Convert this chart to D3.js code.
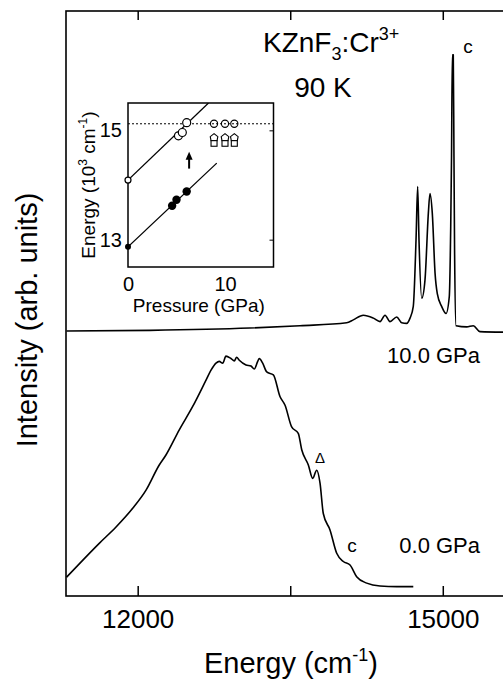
<!DOCTYPE html>
<html>
<head>
<meta charset="utf-8">
<script src="https://cdn.jsdelivr.net/npm/d3@7"></script>
<style>
  body { margin: 0; background: #fff; }
  svg { font-family: "Liberation Sans", Arial, Helvetica, sans-serif; }
</style>
</head>
<body>
<div id="chart"></div>
<script>
// main spectra: energy in cm^-1, intensity in arb. units
const energy0 = [11300, 11622, 11787, 11951, 12082, 12212, 12278, 12409, 12541, 12672, 12721, 12770, 12802, 12836, 12868, 12917, 12950, 12973, 12999, 13065, 13114, 13147, 13180, 13196, 13229, 13269, 13334, 13399, 13449, 13514, 13579, 13613, 13678, 13721, 13760, 13793, 13825, 13891, 13957, 14022, 14088, 14153, 14252, 14383, 14547, 14710];
const int0 = [3.2, 9.0, 11.8, 15.0, 18.1, 22.4, 24.1, 28.4, 32.4, 36.9, 38.6, 39.8, 40.1, 39.8, 41.0, 40.6, 40.2, 40.8, 40.3, 39.5, 39.3, 38.8, 40.1, 40.6, 39.8, 38.3, 37.8, 34.1, 32.6, 28.9, 27.8, 25.0, 22.4, 20.1, 21.5, 19.3, 14.1, 11.3, 7.3, 5.9, 5.3, 3.3, 2.2, 1.7, 1.6, 1.6];

const energy10 = [11300, 12121, 13104, 13596, 14055, 14120, 14218, 14317, 14383, 14432, 14481, 14547, 14596, 14645, 14678, 14710, 14737, 14753, 14766, 14793, 14825, 14858, 14874, 14897, 14924, 14946, 14989, 15032, 15064, 15078, 15086, 15094, 15103, 15110, 15116, 15130, 15235, 15300, 15366, 15592];
const int10 = [45.3, 45.4, 45.8, 46.2, 46.7, 47.2, 48.0, 47.5, 46.9, 48.0, 46.9, 47.7, 46.7, 46.6, 47.5, 49.5, 60.9, 70.0, 60.9, 50.9, 54.0, 65.4, 68.8, 65.4, 55.2, 51.7, 49.5, 48.3, 51.2, 63.1, 75.1, 92.5, 92.5, 75.1, 59.1, 46.2, 46.0, 46.2, 45.2, 45.1];

const xTicks = [12000, 13500, 15000];

// inset: pressure (GPa) vs energy (10^3 cm^-1)
const pOpen = [0, 5.2, 5.6, 6.05];
const eOpen = [14.09, 14.90, 14.96, 15.14];
const pFilled = [0, 4.55, 5.0, 6.05];
const eFilled = [12.87, 13.62, 13.73, 13.88];
const upperFit = [[0, 14.09], [8.3, 15.5]];
const lowerFit = [[0, 12.87], [9.15, 14.40]];
const dottedLevel = 15.12;
const pHigh = [8.87, 10.0, 10.96];
const eHighCircle = [15.12, 15.12, 15.12];
const eHighPent = [14.87, 14.87, 14.87];
const eHighSquare = [14.76, 14.76, 14.76];
const arrowP = 6.3, arrowFrom = 14.30, arrowTo = 14.61;

const width = 503, height = 679;

const svg = d3.select("#chart").append("svg")
    .attr("width", width)
    .attr("height", height);

const x = d3.scaleLinear().domain([11300, 15600]).range([66.5, 503.8]);
const y = d3.scaleLinear().domain([0, 100]).range([596, 11]);

// frame
svg.append("rect")
    .attr("x", 66).attr("y", 11)
    .attr("width", 460).attr("height", 585)
    .attr("fill", "none").attr("stroke", "#000").attr("stroke-width", 1.6);

const bottomAxis = svg.append("g")
    .attr("transform", "translate(0,596)")
    .call(d3.axisBottom(x).tickValues(xTicks).tickSize(-10).tickPadding(14)
        .tickFormat(d => d % 3000 === 0 ? d : ""));
bottomAxis.select(".domain").remove();
bottomAxis.selectAll("line").attr("stroke-width", 1.5);
bottomAxis.selectAll("text").attr("font-size", 26).attr("fill", "#000")
    .attr("font-family", "Liberation Sans, Arial, sans-serif");

const topAxis = svg.append("g")
    .attr("transform", "translate(0,11)")
    .call(d3.axisTop(x).tickValues(xTicks).tickSize(-9).tickFormat(""));
topAxis.select(".domain").remove();
topAxis.selectAll("line").attr("stroke-width", 1.5);

const line = d3.line()
    .x(d => x(d[0]))
    .y(d => y(d[1]))
    .curve(d3.curveMonotoneX);

svg.append("path")
    .datum(energy0.map((e, i) => [e, int0[i]]))
    .attr("d", line)
    .attr("fill", "none").attr("stroke", "#000").attr("stroke-width", 1.6);

svg.append("path")
    .datum(energy10.map((e, i) => [e, int10[i]]))
    .attr("d", line)
    .attr("fill", "none").attr("stroke", "#000").attr("stroke-width", 1.6)
    .attr("stroke-linejoin", "round");

// axis titles
svg.append("text")
    .attr("transform", "translate(37,320) rotate(-90)")
    .attr("text-anchor", "middle")
    .attr("font-size", 29)
    .text("Intensity (arb. units)");

const xt = svg.append("text")
    .attr("x", 291).attr("y", 673)
    .attr("text-anchor", "middle")
    .attr("font-size", 29);
xt.append("tspan").text("Energy (cm");
xt.append("tspan").attr("font-size", 18).attr("dy", -12).text("-1");
xt.append("tspan").attr("dy", 12).text(")");

// annotations
const title = svg.append("text")
    .attr("x", 263).attr("y", 52)
    .attr("font-size", 28);
title.append("tspan").text("KZnF");
title.append("tspan").attr("font-size", 18).attr("dy", 8).text("3");
title.append("tspan").attr("dy", -8).text(":Cr");
title.append("tspan").attr("font-size", 18).attr("dy", -12).text("3+");

svg.append("text").attr("x", 323).attr("y", 97)
    .attr("text-anchor", "middle").attr("font-size", 28).text("90 K");

svg.append("text").attr("x", 468).attr("y", 53)
    .attr("text-anchor", "middle").attr("font-size", 19).text("c");
svg.append("text").attr("x", 480).attr("y", 363)
    .attr("text-anchor", "end").attr("font-size", 22).text("10.0 GPa");
svg.append("text").attr("x", 480).attr("y", 553)
    .attr("text-anchor", "end").attr("font-size", 22).text("0.0 GPa");
svg.append("text").attr("x", 320).attr("y", 463)
    .attr("text-anchor", "middle").attr("font-size", 15).text("Δ");
svg.append("text").attr("x", 352).attr("y", 552)
    .attr("text-anchor", "middle").attr("font-size", 19).text("c");

// ---- inset ----
const ix = d3.scaleLinear().domain([0, 15]).range([128, 273.5]);
const iy = d3.scaleLinear().domain([12.5, 15.5]).range([267, 103]);
const inset = svg.append("g");

inset.append("rect")
    .attr("x", 128).attr("y", 103)
    .attr("width", 145.5).attr("height", 164)
    .attr("fill", "#fff").attr("stroke", "#000").attr("stroke-width", 1.5);

const iLeft = inset.append("g").attr("transform", "translate(128,0)")
    .call(d3.axisLeft(iy).tickValues([13, 15]).tickSize(0).tickPadding(6).tickFormat(d3.format("d")));
const iBottom = inset.append("g").attr("transform", "translate(0,267)")
    .call(d3.axisBottom(ix).tickValues([0, 10]).tickSize(0).tickPadding(6).tickFormat(d3.format("d")));
const iRight = inset.append("g").attr("transform", "translate(273.5,0)")
    .call(d3.axisRight(iy).tickValues([13, 15]).tickSize(-4).tickFormat(""));
[iLeft, iBottom, iRight].forEach(g => {
    g.select(".domain").remove();
    g.selectAll("text").attr("font-size", 20).attr("fill", "#000")
        .attr("font-family", "Liberation Sans, Arial, sans-serif");
});
iBottom.selectAll("text").attr("dy", "0.9em");

inset.append("text")
    .attr("transform", "translate(95,185) rotate(-90)")
    .attr("text-anchor", "middle")
    .attr("font-size", 19)
    .call(t => {
        t.append("tspan").text("Energy (10");
        t.append("tspan").attr("font-size", 12).attr("dy", -8).text("3");
        t.append("tspan").attr("dy", 8).text(" cm");
        t.append("tspan").attr("font-size", 12).attr("dy", -8).text("-1");
        t.append("tspan").attr("dy", 8).text(")");
    });

inset.append("text")
    .attr("x", ix(7.3)).attr("y", 312)
    .attr("text-anchor", "middle").attr("font-size", 19)
    .text("Pressure (GPa)");

svg.append("clipPath").attr("id", "insetClip")
    .append("rect").attr("x", 128).attr("y", 103).attr("width", 145.5).attr("height", 164);

const il = d3.line().x(d => ix(d[0])).y(d => iy(d[1]));

inset.append("line")
    .attr("x1", ix(0)).attr("x2", ix(15))
    .attr("y1", iy(dottedLevel)).attr("y2", iy(dottedLevel))
    .attr("stroke", "#000").attr("stroke-width", 1).attr("stroke-dasharray", "2,2");

[upperFit, lowerFit].forEach(f => {
    inset.append("path").attr("d", il(f))
        .attr("clip-path", "url(#insetClip)")
        .attr("fill", "none").attr("stroke", "#000").attr("stroke-width", 1.3);
});

inset.selectAll(".open").data(pOpen).enter().append("circle")
    .attr("cx", (d, i) => ix(d)).attr("cy", (d, i) => iy(eOpen[i]))
    .attr("r", (d, i) => i === 0 ? 3 : 4)
    .attr("fill", "#fff").attr("stroke", "#000").attr("stroke-width", 1.2);

inset.selectAll(".filled").data(pFilled).enter().append("circle")
    .attr("cx", d => ix(d)).attr("cy", (d, i) => iy(eFilled[i]))
    .attr("r", (d, i) => i === 0 ? 3 : 4.2)
    .attr("fill", "#000");

inset.selectAll(".hc").data(pHigh).enter().append("circle")
    .attr("cx", d => ix(d)).attr("cy", (d, i) => iy(eHighCircle[i]))
    .attr("r", 3.6)
    .attr("fill", "none").attr("stroke", "#000").attr("stroke-width", 1.1);

inset.selectAll(".hp").data(pHigh).enter().append("path")
    .attr("transform", (d, i) => `translate(${ix(d)},${iy(eHighPent[i])})`)
    .attr("d", "M0,-3.8L3.8,-0.8L3,3.2L-3,3.2L-3.8,-0.8Z")
    .attr("fill", "#fff").attr("stroke", "#000").attr("stroke-width", 1.1);

inset.selectAll(".hs").data(pHigh).enter().append("rect")
    .attr("x", d => ix(d) - 3).attr("y", (d, i) => iy(eHighSquare[i]) - 2.8)
    .attr("width", 6).attr("height", 5.6)
    .attr("fill", "#fff").attr("stroke", "#000").attr("stroke-width", 1.1);

// arrow
const ax = ix(arrowP);
inset.append("line")
    .attr("x1", ax).attr("x2", ax)
    .attr("y1", iy(arrowFrom)).attr("y2", iy(arrowTo) + 6)
    .attr("stroke", "#000").attr("stroke-width", 2);
inset.append("path")
    .attr("d", `M${ax},${iy(arrowTo)}L${ax + 3.5},${iy(arrowTo) + 8}L${ax - 3.5},${iy(arrowTo) + 8}Z`)
    .attr("fill", "#000");
</script>
</body>
</html>
